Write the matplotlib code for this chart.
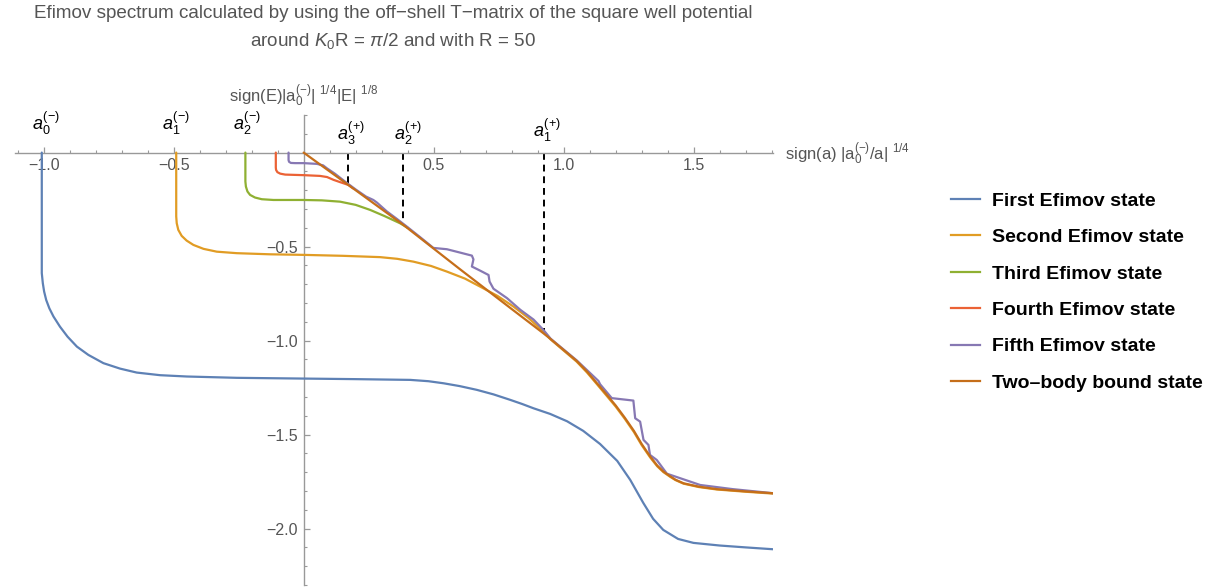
import numpy as np
import matplotlib
matplotlib.use("Agg")
import matplotlib.pyplot as plt
from matplotlib.lines import Line2D
from matplotlib.ticker import FixedLocator

plt.rcParams['font.family'] = ['Liberation Sans', 'DejaVu Sans']
plt.rcParams['mathtext.fontset'] = 'custom'
plt.rcParams['mathtext.rm'] = 'Liberation Sans'
plt.rcParams['mathtext.it'] = 'Liberation Sans:italic'
plt.rcParams['mathtext.bf'] = 'Liberation Sans:bold'

# spectrum curves: x = sign(a)|a0/a|^(1/4), y = sign(E)|a0|^(1/4)|E|^(1/8)
first_x = [-1.007, -1.007, -1.007, -1.003, -0.998, -0.990, -0.978, -0.962, -0.937, -0.908, -0.872,
           -0.828, -0.770, -0.706, -0.642, -0.552, -0.449, -0.257, 0.0, 0.2, 0.41, 0.48, 0.538, 0.6,
           0.666, 0.73, 0.794, 0.84, 0.884, 0.948, 1.013, 1.075, 1.140, 1.206, 1.256, 1.306, 1.344,
           1.383, 1.44, 1.499, 1.6, 1.7, 1.807]
first_y = [0.0, -0.40, -0.641, -0.695, -0.739, -0.784, -0.828, -0.872, -0.926, -0.979, -1.032,
           -1.076, -1.120, -1.149, -1.170, -1.184, -1.191, -1.198, -1.202, -1.205, -1.209, -1.216,
           -1.227, -1.242, -1.262, -1.286, -1.315, -1.337, -1.360, -1.390, -1.429, -1.480, -1.550,
           -1.640, -1.741, -1.863, -1.948, -2.007, -2.055, -2.076, -2.090, -2.100, -2.110]

second_x = [-0.490, -0.490, -0.488, -0.482, -0.469, -0.450, -0.424, -0.385, -0.334, -0.257, -0.129,
            0.0, 0.15, 0.294, 0.36, 0.422, 0.49, 0.551, 0.62, 0.679, 0.745, 0.807, 0.865, 0.922,
            0.95, 1.0, 1.05, 1.09, 1.128, 1.165, 1.2, 1.235, 1.27, 1.3, 1.333, 1.36, 1.384, 1.41,
            1.43, 1.461, 1.52, 1.589, 1.7, 1.807]
second_y = [0.0, -0.340, -0.376, -0.411, -0.443, -0.468, -0.491, -0.512, -0.527, -0.535, -0.541,
            -0.544, -0.549, -0.556, -0.565, -0.580, -0.603, -0.633, -0.670, -0.713, -0.762, -0.819,
            -0.880, -0.952, -0.994, -1.053, -1.112, -1.170, -1.232, -1.293, -1.351, -1.416, -1.486,
            -1.556, -1.622, -1.669, -1.700, -1.725, -1.742, -1.761, -1.779, -1.792, -1.804, -1.814]

third_x = [-0.224, -0.224, -0.222, -0.216, -0.206, -0.187, -0.161, -0.116, 0.0, 0.07, 0.140, 0.2,
           0.256, 0.31, 0.371, 0.40]
third_y = [0.0, -0.154, -0.181, -0.207, -0.225, -0.239, -0.248, -0.252, -0.252, -0.254, -0.261,
           -0.278, -0.305, -0.337, -0.376, -0.400]

fourth_x = [-0.107, -0.107, -0.106, -0.101, -0.090, -0.071, 0.0, 0.063, 0.09, 0.115, 0.14, 0.172, 0.19]
fourth_y = [0.0, -0.080, -0.092, -0.104, -0.112, -0.117, -0.120, -0.124, -0.130, -0.145, -0.157,
            -0.172, -0.190]

fifth_x = [-0.058, -0.058, -0.056, -0.049, -0.033, 0.0, 0.051, 0.075, 0.089, 0.12, 0.16, 0.20, 0.24,
           0.268, 0.282, 0.32, 0.358, 0.40, 0.45, 0.499, 0.551, 0.602, 0.647, 0.653, 0.647, 0.679,
           0.711, 0.715, 0.730, 0.782, 0.833, 0.884, 0.922, 0.95, 1.05, 1.134, 1.14, 1.185, 1.268,
           1.275, 1.294, 1.307, 1.326, 1.332, 1.358, 1.397, 1.525, 1.65, 1.807]
fifth_y = [0.0, -0.040, -0.049, -0.055, -0.056, -0.056, -0.060, -0.068, -0.083, -0.112, -0.155,
           -0.196, -0.234, -0.252, -0.266, -0.313, -0.352, -0.397, -0.452, -0.507, -0.514, -0.532,
           -0.548, -0.568, -0.606, -0.628, -0.651, -0.686, -0.724, -0.774, -0.836, -0.888, -0.943,
           -0.990, -1.105, -1.215, -1.232, -1.306, -1.319, -1.413, -1.431, -1.528, -1.555, -1.608,
           -1.635, -1.708, -1.768, -1.790, -1.812]

twobody_x = [0.0, 0.172, 0.384, 0.6, 0.8, 0.922, 0.95, 1.0, 1.05, 1.09, 1.128, 1.165, 1.2, 1.235,
             1.27, 1.3, 1.333, 1.36, 1.384, 1.41, 1.43, 1.461, 1.52, 1.589, 1.7, 1.807]
twobody_y = [0.0, -0.172, -0.385, -0.619, -0.832, -0.961, -0.992, -1.050, -1.108, -1.165, -1.227,
             -1.287, -1.345, -1.410, -1.480, -1.550, -1.617, -1.665, -1.697, -1.722, -1.740, -1.759,
             -1.777, -1.790, -1.802, -1.812]

# thresholds a_n^(+) where the trimers meet the two-body line
thr_x = [0.172, 0.384, 0.926]
thr_y = [-0.172, -0.385, -0.961]

names = ["First Efimov state", "Second Efimov state", "Third Efimov state",
         "Fourth Efimov state", "Fifth Efimov state", "Two\u2013body bound state"]
colors = ["#5E81B5", "#E19C24", "#8FB032", "#EB6235", "#8778B3", "#C56E1A"]

fig = plt.figure(figsize=(12.28, 5.87), dpi=100)
ax = fig.add_axes([15/1228, 2/587, 758/1228, 470/587])

curves = [(first_x, first_y), (second_x, second_y), (third_x, third_y),
          (fourth_x, fourth_y), (fifth_x, fifth_y), (twobody_x, twobody_y)]
for (cx, cy), c in zip(curves, colors):
    ax.plot(cx, cy, color=c, lw=1.6, solid_joinstyle='round', solid_capstyle='round', zorder=3)

for xv, yv in zip(thr_x, thr_y):
    ax.plot([xv, xv], [0, yv], color='black', lw=1.4, ls=(0, (3.5, 2.5)), zorder=2)

ax.set_xlim(-1.11, 1.805)
ax.set_ylim(-2.30, 0.2)

# mathematica-like axes through the origin
for s in ['top', 'right']:
    ax.spines[s].set_visible(False)
ax.spines['left'].set_position(('data', 0))
ax.spines['bottom'].set_position(('data', 0))
for s in ['left', 'bottom']:
    ax.spines[s].set_color('#999999')
    ax.spines[s].set_linewidth(1.0)

ax.xaxis.set_major_locator(FixedLocator([-1.0, -0.5, 0.5, 1.0, 1.5]))
ax.xaxis.set_minor_locator(FixedLocator(np.round(np.arange(-1.1, 1.81, 0.1), 2)))
ax.yaxis.set_major_locator(FixedLocator([-2.0, -1.5, -1.0, -0.5]))
ax.yaxis.set_minor_locator(FixedLocator(np.round(np.arange(-2.3, 0.21, 0.1), 2)))
ax.set_xticklabels(["\u22121.0", "\u22120.5", "0.5", "1.0", "1.5"])
ax.set_yticklabels(["\u22122.0", "\u22121.5", "\u22121.0", "\u22120.5"])
ax.tick_params(which='both', direction='in', color='#999999', labelcolor='#555555', labelsize=11.5)
ax.tick_params(which='major', length=4, width=0.9, pad=4)
ax.tick_params(which='minor', length=2.2, width=0.8)

lab_color = '#555555'
ax.text(0.0, 0.3, r'sign(E)|a$_0^{(-)}$| $^{1/4}$|E| $^{1/8}$', ha='center', va='center',
        fontsize=12, color=lab_color, clip_on=False)
ax.text(1.852, -0.005, r'sign(a) |a$_0^{(-)}$/a| $^{1/4}$', ha='left', va='center',
        fontsize=12, color=lab_color, clip_on=False)

# scattering-length markers
marks = [(r'$a_0^{(-)}$', -0.99, 0.155), (r'$a_1^{(-)}$', -0.49, 0.155), (r'$a_2^{(-)}$', -0.217, 0.155),
         (r'$a_3^{(+)}$', 0.183, 0.103), (r'$a_2^{(+)}$', 0.402, 0.103), (r'$a_1^{(+)}$', 0.937, 0.118)]
for txt, mx, my in marks:
    ax.text(mx, my, txt, ha='center', va='center', fontsize=13, color='black', clip_on=False)

fig.text(393/1228, 1 - 13/587, "Efimov spectrum calculated by using the off\u2212shell T\u2212matrix of the square well potential",
         ha='center', va='center', fontsize=13.6, color='#555555')
fig.text(393/1228, 1 - 41/587, r'around $K_0$R = $\pi$/2 and with R = 50',
         ha='center', va='center', fontsize=13.6, color='#555555')

handles = [Line2D([], [], color=c, lw=1.6) for c in colors]
leg = fig.legend(handles, names, loc='upper left', bbox_to_anchor=(951/1228, 1 - 192/587),
                 frameon=False, borderpad=0, borderaxespad=0, handlelength=1.5, handletextpad=0.6,
                 labelspacing=0.97, prop={'weight': 'bold', 'size': 14})

fig.savefig("out.png", dpi=100)
